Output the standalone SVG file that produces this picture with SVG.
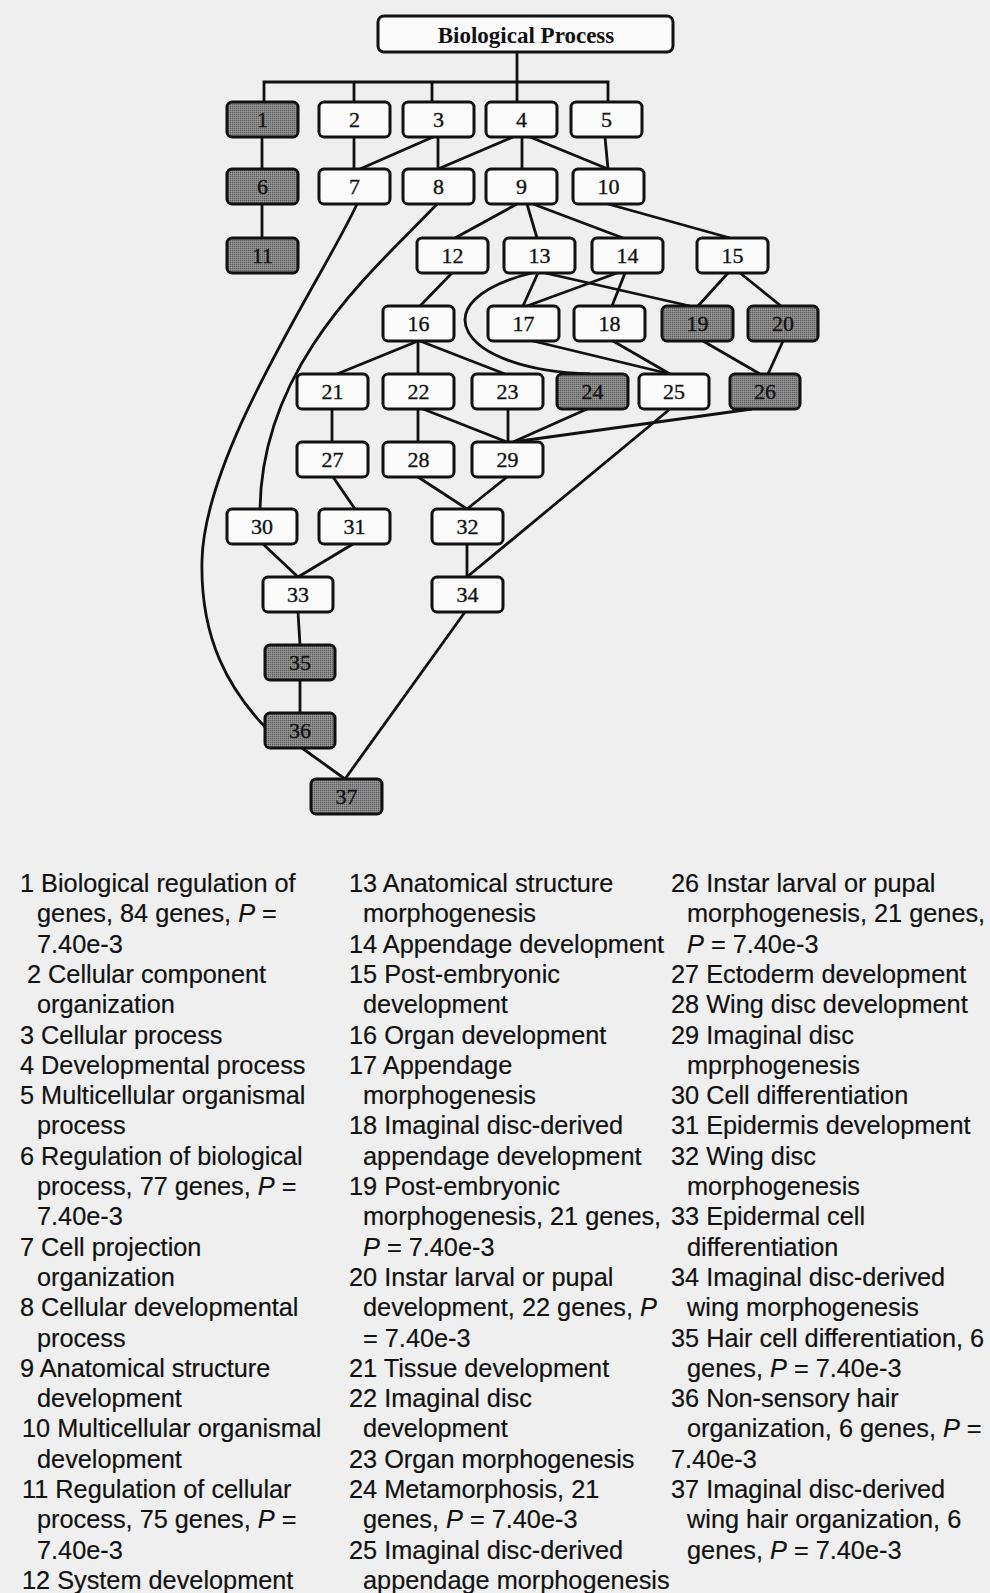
<svg xmlns="http://www.w3.org/2000/svg" width="990" height="1593" viewBox="0 0 990 1593">
  <defs>
    <!-- stippled grey fill for the enriched terms -->
    <pattern id="stipple" width="2" height="2" patternUnits="userSpaceOnUse">
      <rect width="2" height="2" fill="#858585"/>
      <rect width="1" height="1" fill="#5c5c5c"/>
      <rect x="1" y="1" width="1" height="1" fill="#9a9a9a"/>
    </pattern>
    <style>
      .bg { fill: #efefef; }
      .box { fill: #fbfbfb; stroke: #111; stroke-width: 3; }
      .hit { fill: url(#stipple); stroke: #111; stroke-width: 3; }
      .num { font-family: "Liberation Serif", "DejaVu Serif", serif; font-size: 22px; fill: #111; stroke: #111; stroke-width: 0.35; text-anchor: middle; }
      .title { font-family: "Liberation Serif", "DejaVu Serif", serif; font-size: 23px; font-weight: bold; fill: #111; text-anchor: middle; }
      .edge { fill: none; stroke: #111; stroke-width: 2.8; stroke-linejoin: miter; }
      .leg { font-family: "Liberation Sans", Arial, sans-serif; font-size: 25.3px; fill: #111; stroke: #111; stroke-width: 0.2; }
      .it { font-style: italic; }
    </style>
  </defs>

  <rect class="bg" x="0" y="0" width="990" height="1593"/>

  <!-- connectors -->
  <g id="connectors" class="edge">
    <path d="M517,52 V82 M264,102 V82 H608 V102 M354,82 V102 M432,82 V102 M517,82 V102"/>
    <path d="M262,137 V169"/>
    <path d="M354,137 V169"/>
    <path d="M433,137 L360,169"/>
    <path d="M438,137 V169"/>
    <path d="M513,137 L438,169"/>
    <path d="M522,137 V169"/>
    <path d="M530,137 L608,169"/>
    <path d="M605,137 L608,169"/>
    <path d="M262,204 V238"/>
    <path d="M517,204 L455,238"/>
    <path d="M527,204 L537,238"/>
    <path d="M533,204 L623,238"/>
    <path d="M608,204 L730,238"/>
    <path d="M357,204 C322,280 205,450 202,560 C200,640 230,690 265,727"/>
    <path d="M437,204 C380,265 262,360 260,509"/>
    <path d="M452,273 L420,306"/>
    <path d="M538,273 L523,306"/>
    <path d="M545,273 L690,306"/>
    <path d="M532,273 C420,300 455,370 590,374"/>
    <path d="M617,273 L527,306"/>
    <path d="M625,273 L612,306"/>
    <path d="M728,273 L698,306"/>
    <path d="M740,273 L781,306"/>
    <path d="M418,341 L337,374"/>
    <path d="M418,341 V374"/>
    <path d="M420,341 L505,374"/>
    <path d="M533,341 L670,374"/>
    <path d="M613,341 L670,374"/>
    <path d="M703,341 L760,374"/>
    <path d="M783,341 L768,374"/>
    <path d="M332,409 V442"/>
    <path d="M418,409 V442"/>
    <path d="M423,409 L507,442"/>
    <path d="M508,409 V442"/>
    <path d="M587,409 L513,442"/>
    <path d="M752,409 L513,442"/>
    <path d="M670,409 L467,577"/>
    <path d="M333,477 L355,509"/>
    <path d="M418,477 L467,509"/>
    <path d="M507,477 L467,509"/>
    <path d="M263,544 L298,577"/>
    <path d="M353,544 L298,577"/>
    <path d="M467,544 V577"/>
    <path d="M298,612 L300,645"/>
    <path d="M300,680 V713"/>
    <path d="M302,748 L345,779"/>
    <path d="M465,612 L345,779"/>
  </g>

  <!-- root -->
  <g id="root">
    <rect class="box" x="378" y="16" width="295" height="36" rx="6"/>
    <text class="title" x="526" y="43">Biological Process</text>
  </g>

  <!-- GO term nodes -->
  <g id="n1"><rect class="hit" x="227" y="102" width="71" height="35" rx="5"/><text class="num" x="262.5" y="127">1</text></g>
  <g id="n2"><rect class="box" x="319" y="102" width="71" height="35" rx="5"/><text class="num" x="354.5" y="127">2</text></g>
  <g id="n3"><rect class="box" x="403" y="102" width="71" height="35" rx="5"/><text class="num" x="438.5" y="127">3</text></g>
  <g id="n4"><rect class="box" x="486" y="102" width="71" height="35" rx="5"/><text class="num" x="521.5" y="127">4</text></g>
  <g id="n5"><rect class="box" x="571" y="102" width="71" height="35" rx="5"/><text class="num" x="606.5" y="127">5</text></g>

  <g id="n6"><rect class="hit" x="227" y="169" width="71" height="35" rx="5"/><text class="num" x="262.5" y="194">6</text></g>
  <g id="n7"><rect class="box" x="319" y="169" width="71" height="35" rx="5"/><text class="num" x="354.5" y="194">7</text></g>
  <g id="n8"><rect class="box" x="403" y="169" width="71" height="35" rx="5"/><text class="num" x="438.5" y="194">8</text></g>
  <g id="n9"><rect class="box" x="486" y="169" width="71" height="35" rx="5"/><text class="num" x="521.5" y="194">9</text></g>
  <g id="n10"><rect class="box" x="573" y="169" width="71" height="35" rx="5"/><text class="num" x="608.5" y="194">10</text></g>

  <g id="n11"><rect class="hit" x="227" y="238" width="71" height="35" rx="5"/><text class="num" x="262.5" y="263">11</text></g>
  <g id="n12"><rect class="box" x="417" y="238" width="71" height="35" rx="5"/><text class="num" x="452.5" y="263">12</text></g>
  <g id="n13"><rect class="box" x="504" y="238" width="71" height="35" rx="5"/><text class="num" x="539.5" y="263">13</text></g>
  <g id="n14"><rect class="box" x="592" y="238" width="71" height="35" rx="5"/><text class="num" x="627.5" y="263">14</text></g>
  <g id="n15"><rect class="box" x="697" y="238" width="71" height="35" rx="5"/><text class="num" x="732.5" y="263">15</text></g>

  <g id="n16"><rect class="box" x="383" y="306" width="71" height="35" rx="5"/><text class="num" x="418.5" y="331">16</text></g>
  <g id="n17"><rect class="box" x="488" y="306" width="71" height="35" rx="5"/><text class="num" x="523.5" y="331">17</text></g>
  <g id="n18"><rect class="box" x="574" y="306" width="71" height="35" rx="5"/><text class="num" x="609.5" y="331">18</text></g>
  <g id="n19"><rect class="hit" x="662" y="306" width="71" height="35" rx="5"/><text class="num" x="697.5" y="331">19</text></g>
  <g id="n20"><rect class="hit" x="748" y="306" width="70" height="35" rx="5"/><text class="num" x="783" y="331">20</text></g>

  <g id="n21"><rect class="box" x="297" y="374" width="71" height="35" rx="5"/><text class="num" x="332.5" y="399">21</text></g>
  <g id="n22"><rect class="box" x="383" y="374" width="71" height="35" rx="5"/><text class="num" x="418.5" y="399">22</text></g>
  <g id="n23"><rect class="box" x="472" y="374" width="71" height="35" rx="5"/><text class="num" x="507.5" y="399">23</text></g>
  <g id="n24"><rect class="hit" x="557" y="374" width="71" height="35" rx="5"/><text class="num" x="592.5" y="399">24</text></g>
  <g id="n25"><rect class="box" x="639" y="374" width="70" height="35" rx="5"/><text class="num" x="674" y="399">25</text></g>
  <g id="n26"><rect class="hit" x="730" y="374" width="70" height="35" rx="5"/><text class="num" x="765" y="399">26</text></g>

  <g id="n27"><rect class="box" x="297" y="442" width="71" height="35" rx="5"/><text class="num" x="332.5" y="467">27</text></g>
  <g id="n28"><rect class="box" x="383" y="442" width="71" height="35" rx="5"/><text class="num" x="418.5" y="467">28</text></g>
  <g id="n29"><rect class="box" x="472" y="442" width="71" height="35" rx="5"/><text class="num" x="507.5" y="467">29</text></g>

  <g id="n30"><rect class="box" x="227" y="509" width="70" height="35" rx="5"/><text class="num" x="262" y="534">30</text></g>
  <g id="n31"><rect class="box" x="319" y="509" width="71" height="35" rx="5"/><text class="num" x="354.5" y="534">31</text></g>
  <g id="n32"><rect class="box" x="432" y="509" width="71" height="35" rx="5"/><text class="num" x="467.5" y="534">32</text></g>

  <g id="n33"><rect class="box" x="263" y="577" width="70" height="35" rx="5"/><text class="num" x="298" y="602">33</text></g>
  <g id="n34"><rect class="box" x="432" y="577" width="71" height="35" rx="5"/><text class="num" x="467.5" y="602">34</text></g>

  <g id="n35"><rect class="hit" x="265" y="645" width="70" height="35" rx="5"/><text class="num" x="300" y="670">35</text></g>
  <g id="n36"><rect class="hit" x="265" y="713" width="70" height="35" rx="5"/><text class="num" x="300" y="738">36</text></g>
  <g id="n37"><rect class="hit" x="311" y="779" width="71" height="35" rx="5"/><text class="num" x="346.5" y="804">37</text></g>

  <!-- legend: term names -->
  <g id="legend" class="leg">
    <text x="20" y="892">1 Biological regulation of</text>
    <text x="37" y="922.3">genes, 84 genes, <tspan class="it">P</tspan> =</text>
    <text x="37" y="952.6">7.40e-3</text>
    <text x="27" y="982.9">2 Cellular component</text>
    <text x="37" y="1013.2">organization</text>
    <text x="20" y="1043.5">3 Cellular process</text>
    <text x="20" y="1073.8">4 Developmental process</text>
    <text x="20" y="1104.1">5 Multicellular organismal</text>
    <text x="37" y="1134.4">process</text>
    <text x="20" y="1164.7">6 Regulation of biological</text>
    <text x="37" y="1195">process, 77 genes, <tspan class="it">P</tspan> =</text>
    <text x="37" y="1225.3">7.40e-3</text>
    <text x="20" y="1255.6">7 Cell projection</text>
    <text x="37" y="1285.9">organization</text>
    <text x="20" y="1316.2">8 Cellular developmental</text>
    <text x="37" y="1346.5">process</text>
    <text x="20" y="1376.8">9 Anatomical structure</text>
    <text x="37" y="1407.1">development</text>
    <text x="22" y="1437.4">10 Multicellular organismal</text>
    <text x="37" y="1467.7">development</text>
    <text x="22" y="1498">11 Regulation of cellular</text>
    <text x="37" y="1528.3">process, 75 genes, <tspan class="it">P</tspan> =</text>
    <text x="37" y="1558.6">7.40e-3</text>
    <text x="22" y="1588.9">12 System development</text>

    <text x="349" y="892">13 Anatomical structure</text>
    <text x="363" y="922.3">morphogenesis</text>
    <text x="349" y="952.6">14 Appendage development</text>
    <text x="349" y="982.9">15 Post-embryonic</text>
    <text x="363" y="1013.2">development</text>
    <text x="349" y="1043.5">16 Organ development</text>
    <text x="349" y="1073.8">17 Appendage</text>
    <text x="363" y="1104.1">morphogenesis</text>
    <text x="349" y="1134.4">18 Imaginal disc-derived</text>
    <text x="363" y="1164.7">appendage development</text>
    <text x="349" y="1195">19 Post-embryonic</text>
    <text x="363" y="1225.3">morphogenesis, 21 genes,</text>
    <text x="363" y="1255.6"><tspan class="it">P</tspan> = 7.40e-3</text>
    <text x="349" y="1285.9">20 Instar larval or pupal</text>
    <text x="363" y="1316.2">development, 22 genes, <tspan class="it">P</tspan></text>
    <text x="363" y="1346.5">= 7.40e-3</text>
    <text x="349" y="1376.8">21 Tissue development</text>
    <text x="349" y="1407.1">22 Imaginal disc</text>
    <text x="363" y="1437.4">development</text>
    <text x="349" y="1467.7">23 Organ morphogenesis</text>
    <text x="349" y="1498">24 Metamorphosis, 21</text>
    <text x="363" y="1528.3">genes, <tspan class="it">P</tspan> = 7.40e-3</text>
    <text x="349" y="1558.6">25 Imaginal disc-derived</text>
    <text x="363" y="1588.9">appendage morphogenesis</text>

    <text x="671" y="892">26 Instar larval or pupal</text>
    <text x="687" y="922.3">morphogenesis, 21 genes,</text>
    <text x="687" y="952.6"><tspan class="it">P</tspan> = 7.40e-3</text>
    <text x="671" y="982.9">27 Ectoderm development</text>
    <text x="671" y="1013.2">28 Wing disc development</text>
    <text x="671" y="1043.5">29 Imaginal disc</text>
    <text x="687" y="1073.8">mprphogenesis</text>
    <text x="671" y="1104.1">30 Cell differentiation</text>
    <text x="671" y="1134.4">31 Epidermis development</text>
    <text x="671" y="1164.7">32 Wing disc</text>
    <text x="687" y="1195">morphogenesis</text>
    <text x="671" y="1225.3">33 Epidermal cell</text>
    <text x="687" y="1255.6">differentiation</text>
    <text x="671" y="1285.9">34 Imaginal disc-derived</text>
    <text x="687" y="1316.2">wing morphogenesis</text>
    <text x="671" y="1346.5">35 Hair cell differentiation, 6</text>
    <text x="687" y="1376.8">genes, <tspan class="it">P</tspan> = 7.40e-3</text>
    <text x="671" y="1407.1">36 Non-sensory hair</text>
    <text x="687" y="1437.4">organization, 6 genes, <tspan class="it">P</tspan> =</text>
    <text x="671" y="1467.7">7.40e-3</text>
    <text x="671" y="1498">37 Imaginal disc-derived</text>
    <text x="687" y="1528.3">wing hair organization, 6</text>
    <text x="687" y="1558.6">genes, <tspan class="it">P</tspan> = 7.40e-3</text>
  </g>
</svg>
